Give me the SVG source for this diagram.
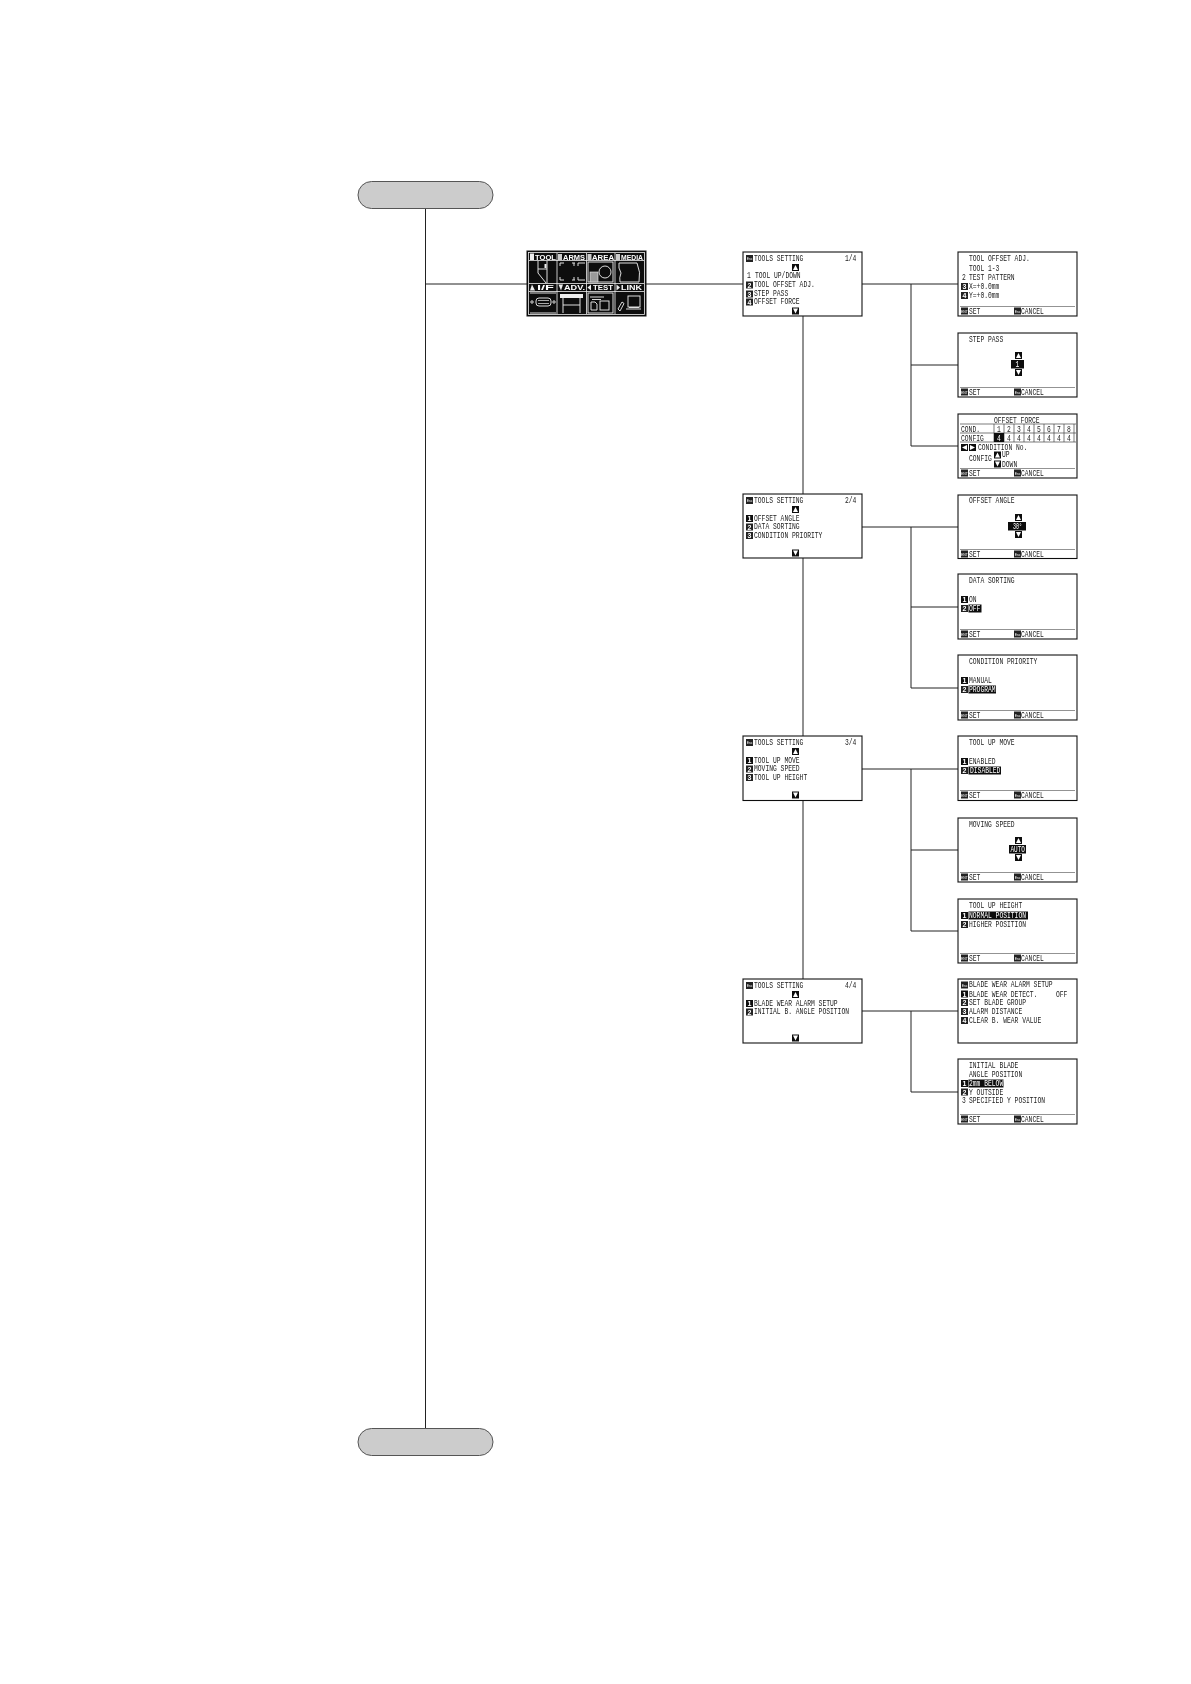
<svg xmlns="http://www.w3.org/2000/svg" width="1191" height="1684" viewBox="0 0 1191 1684">
<style>
text{font-family:"Liberation Mono",monospace;font-size:9.5px;fill:#222}
.w{fill:#fff}
.i{font-size:7px;font-weight:bold;fill:#fff;text-anchor:middle;font-family:"Liberation Sans",sans-serif}
.tiny{font-size:3.4px;fill:#fff;text-anchor:middle;font-family:"Liberation Sans",sans-serif}
.m{font-family:"Liberation Sans",sans-serif;font-size:7.5px;font-weight:bold;fill:#fff}
.scr{fill:#fff;stroke:#111;stroke-width:1.1}
.pill{fill:#ccc;stroke:#555;stroke-width:1}
.line{fill:none;stroke:#222;stroke-width:1}
.cut{stroke:#777;stroke-width:.8;fill:none}
.grid{stroke:#444;stroke-width:.7;fill:none}
.ln{fill:none;stroke:#eee;stroke-width:.9}
.node{filter:url(#soft)}
</style>
<defs>
<filter id="soft" x="-2%" y="-2%" width="104%" height="104%"><feGaussianBlur stdDeviation="0.28"/></filter>
<g id="d1"><rect width="7" height="7" fill="#111"/><text class="i" x="3.5" y="6">1</text></g>
<g id="d2"><rect width="7" height="7" fill="#222"/><text class="i" x="3.5" y="6">2</text></g>
<g id="d3"><rect width="7" height="7" fill="#222"/><text class="i" x="3.5" y="6">3</text></g>
<g id="d4"><rect width="7" height="7" fill="#222"/><text class="i" x="3.5" y="6">4</text></g>
<g id="esc"><rect width="7" height="7" fill="#222"/><text class="tiny" x="3.5" y="5">Esc</text></g>
<g id="ent"><rect width="7" height="7" fill="#222"/><text class="tiny" x="3.5" y="5">ENT</text></g>
<g id="up"><rect width="7" height="7" fill="#111"/><polygon points="3.5,1 6,6 1,6" fill="#fff"/></g>
<g id="dn"><rect width="7" height="7" fill="#111"/><polygon points="3.5,6 6,1 1,1" fill="#fff"/></g>
<g id="lf"><rect width="7" height="7" fill="#111"/><polygon points="1,3.5 6,1 6,6" fill="#fff"/></g>
<g id="rt"><rect width="7" height="7" fill="#111"/><polygon points="6,3.5 1,1 1,6" fill="#fff"/></g>
<g id="foot"><path class="cut" d="M2 54.5H117"/><use href="#ent" x="3" y="55.5"/><text x="11" y="61.5" textLength="11.4" lengthAdjust="spacingAndGlyphs">SET</text><use href="#esc" x="56" y="55.5"/><text x="63" y="61.5" textLength="22.8" lengthAdjust="spacingAndGlyphs">CANCEL</text></g>
</defs>

<g id="connectors" class="line">
<path d="M425.5 209V1428"/>
<path d="M425.5 284H527M646 284H743"/>
<path d="M803 316V979"/>
<path d="M862 284H958M911 284V446M911 365H958M911 446H958"/>
<path d="M862 527H958M911 527V688M911 607H958M911 688H958"/>
<path d="M862 769H958M911 769V931M911 850H958M911 931H958"/>
<path d="M862 1011H958M911 1011V1092M911 1092H958"/>
</g>

<g id="start"><rect class="pill" x="358" y="181.500" width="135" height="27" rx="13.500"/></g>
<g id="end"><rect class="pill" x="358" y="1428.500" width="135" height="27" rx="13.500"/></g>

<g id="main-menu" class="node" transform="translate(527,251)">
<rect width="119" height="65" fill="#111" stroke="#111"/>
<rect x="1.500" y="1.500" width="116" height="62" fill="none" stroke="#eee" stroke-width=".8"/>
<path d="M30 2V63M59.500 2V63M88 2V63M2 9.500H117M2 32.500H117M2 40.500H117" stroke="#eee" stroke-width=".8" fill="none"/>
<rect x="3" y="2.500" width="4" height="6.500" fill="#eee"/>
<text class="m" x="8" y="8.500" textLength="21" lengthAdjust="spacingAndGlyphs">TOOL</text>
<text class="m" x="36" y="8.500" textLength="22" lengthAdjust="spacingAndGlyphs">ARMS</text>
<text class="m" x="65" y="8.500" textLength="22" lengthAdjust="spacingAndGlyphs">AREA</text>
<text class="m" x="94" y="8.500" textLength="22" lengthAdjust="spacingAndGlyphs">MEDIA</text>
<text class="m" x="10" y="39" textLength="17" lengthAdjust="spacingAndGlyphs">I/F</text>
<text class="m" x="37" y="39" textLength="21" lengthAdjust="spacingAndGlyphs">ADV.</text>
<text class="m" x="66" y="39" textLength="20" lengthAdjust="spacingAndGlyphs">TEST</text>
<text class="m" x="94" y="39" textLength="21" lengthAdjust="spacingAndGlyphs">LINK</text>
<path d="M31 3h4v6h-4zM60.500 3h4v6h-4zM89 3h4v6h-4z" fill="#ccc"/>
<polygon points="5,33.500 8,39.500 3,39.500" fill="#eee"/>
<polygon points="34,39.500 36,33.500 31.500,33.500" fill="#eee"/>
<polygon points="60.500,36.500 64,33.500 64,39.500" fill="#eee"/>
<polygon points="93,36.500 89.500,33.500 89.500,39.500" fill="#eee"/>
<path class="ln" d="M11 10V22L19 32M20 10V32M11 18H20"/><rect x="17.500" y="13" width="2" height="4" fill="#eee"/>
<path class="ln" d="M33 15V12H37M45 12H48M51 15V12H58M33 26V29H37M45 29H48M51 26V29H58M47 12V15M47 29V26"/>
<rect class="ln" x="61" y="11" width="25" height="20"/><circle class="ln" cx="78" cy="21" r="6"/><rect x="63" y="21" width="8" height="10" fill="#999" stroke="#eee" stroke-width=".6"/>
<path class="ln" d="M92 12H110Q114 21 112 31H93Q92 27 94 22Q91 17 92 12Z"/>
<path class="ln" d="M3 42H29M3 62H29"/><rect class="ln" x="9" y="47" width="15" height="8" rx="3"/><circle class="ln" cx="5" cy="51" r="1.200"/><circle class="ln" cx="27" cy="51" r="1.200"/><path d="M11 49.500h11M11 52.500h11" stroke="#aaa" stroke-width="1"/>
<rect x="33" y="43" width="23" height="4" fill="#eee"/><path class="ln" d="M36 47V62M53 47V62M36 54H53"/>
<rect class="ln" x="61" y="42" width="25" height="20"/><rect class="ln" x="73" y="50" width="9" height="9"/><path class="ln" d="M64 51H68L70 53V59H64ZM63 46H77M65 48.500H74"/>
<rect class="ln" x="101" y="45" width="12" height="11"/><path class="ln" d="M99 58H114M102 56.500H112"/><path class="ln" d="M91 58L95 51L97 52.500L93 60Z"/>
</g>

<g id="tools-1" class="node" transform="translate(743,252)">
<rect class="scr" width="119" height="64"/>
<use href="#esc" x="3" y="3"/><text x="11" y="9" textLength="49.400" lengthAdjust="spacingAndGlyphs">TOOLS SETTING</text><text x="102" y="9" textLength="11.400" lengthAdjust="spacingAndGlyphs">1/4</text>
<use href="#up" x="49" y="12"/>
<text x="4" y="26" textLength="3.800" lengthAdjust="spacingAndGlyphs">1</text><text x="12" y="26" textLength="45.600" lengthAdjust="spacingAndGlyphs">TOOL UP/DOWN</text>
<use href="#d2" x="3" y="29.500"/><text x="11" y="35" textLength="60.800" lengthAdjust="spacingAndGlyphs">TOOL OFFSET ADJ.</text>
<use href="#d3" x="3" y="38.500"/><text x="11" y="44" textLength="34.200" lengthAdjust="spacingAndGlyphs">STEP PASS</text>
<use href="#d4" x="3" y="46.500"/><text x="11" y="52" textLength="45.600" lengthAdjust="spacingAndGlyphs">OFFSET FORCE</text>
<use href="#dn" x="49" y="55.500"/>
</g>

<g id="tools-2" class="node" transform="translate(743,494)">
<rect class="scr" width="119" height="64"/>
<use href="#esc" x="3" y="3"/><text x="11" y="9" textLength="49.400" lengthAdjust="spacingAndGlyphs">TOOLS SETTING</text><text x="102" y="9" textLength="11.400" lengthAdjust="spacingAndGlyphs">2/4</text>
<use href="#up" x="49" y="12"/>
<use href="#d1" x="3" y="21"/><text x="11" y="27" textLength="45.600" lengthAdjust="spacingAndGlyphs">OFFSET ANGLE</text>
<use href="#d2" x="3" y="29.500"/><text x="11" y="35" textLength="45.600" lengthAdjust="spacingAndGlyphs">DATA SORTING</text>
<use href="#d3" x="3" y="38"/><text x="11" y="44" textLength="68.400" lengthAdjust="spacingAndGlyphs">CONDITION PRIORITY</text>
<use href="#dn" x="49" y="55.500"/>
</g>

<g id="tools-3" class="node" transform="translate(743,736)">
<rect class="scr" width="119" height="64.500"/>
<use href="#esc" x="3" y="3"/><text x="11" y="9" textLength="49.400" lengthAdjust="spacingAndGlyphs">TOOLS SETTING</text><text x="102" y="9" textLength="11.400" lengthAdjust="spacingAndGlyphs">3/4</text>
<use href="#up" x="49" y="12"/>
<use href="#d1" x="3" y="21"/><text x="11" y="27" textLength="45.600" lengthAdjust="spacingAndGlyphs">TOOL UP MOVE</text>
<use href="#d2" x="3" y="29.500"/><text x="11" y="35" textLength="45.600" lengthAdjust="spacingAndGlyphs">MOVING SPEED</text>
<use href="#d3" x="3" y="38"/><text x="11" y="44" textLength="53.200" lengthAdjust="spacingAndGlyphs">TOOL UP HEIGHT</text>
<use href="#dn" x="49" y="55.500"/>
</g>

<g id="tools-4" class="node" transform="translate(743,979)">
<rect class="scr" width="119" height="64"/>
<use href="#esc" x="3" y="3"/><text x="11" y="9" textLength="49.400" lengthAdjust="spacingAndGlyphs">TOOLS SETTING</text><text x="102" y="9" textLength="11.400" lengthAdjust="spacingAndGlyphs">4/4</text>
<use href="#up" x="49" y="12"/>
<use href="#d1" x="3" y="21"/><text x="11" y="27" textLength="83.600" lengthAdjust="spacingAndGlyphs">BLADE WEAR ALARM SETUP</text>
<use href="#d2" x="3" y="29.500"/><text x="11" y="35" textLength="95" lengthAdjust="spacingAndGlyphs">INITIAL B. ANGLE POSITION</text>
<use href="#dn" x="49" y="55.500"/>
</g>

<g id="tool-offset-adj" class="node" transform="translate(958,252)">
<rect class="scr" width="119" height="64"/>
<text x="11" y="9" textLength="60.800" lengthAdjust="spacingAndGlyphs">TOOL OFFSET ADJ.</text>
<text x="11" y="18.500" textLength="30.400" lengthAdjust="spacingAndGlyphs">TOOL 1-3</text>
<text x="4" y="27.500" textLength="3.800" lengthAdjust="spacingAndGlyphs">2</text><text x="11" y="27.500" textLength="45.600" lengthAdjust="spacingAndGlyphs">TEST PATTERN</text>
<use href="#d3" x="3" y="31"/><text x="11" y="36.500" textLength="30.400" lengthAdjust="spacingAndGlyphs">X=+0.0mm</text>
<use href="#d4" x="3" y="40"/><text x="11" y="45.500" textLength="30.400" lengthAdjust="spacingAndGlyphs">Y=+0.0mm</text>
<use href="#foot"/>
</g>

<g id="step-pass" class="node" transform="translate(958,333)">
<rect class="scr" width="119" height="64"/>
<text x="11" y="9" textLength="34.200" lengthAdjust="spacingAndGlyphs">STEP PASS</text>
<use href="#up" x="57" y="19"/><rect x="53" y="27" width="13" height="8.500" fill="#111"/><text class="w" x="57.500" y="34" textLength="3.800" lengthAdjust="spacingAndGlyphs">1</text><use href="#dn" x="57" y="36"/>
<use href="#foot"/>
</g>

<g id="offset-force" class="node" transform="translate(958,414)">
<rect class="scr" width="119" height="64"/>
<text x="36" y="8.500" textLength="45.600" lengthAdjust="spacingAndGlyphs">OFFSET FORCE</text>
<path class="grid" d="M2 10H118M2 19H118M2 28H118M36 10V28M46 10V28M56 10V28M66 10V28M76 10V28M86 10V28M96 10V28M106 10V28M116 10V28"/>
<text x="3" y="17.500" textLength="19" lengthAdjust="spacingAndGlyphs">COND.</text><text x="3" y="26.500" textLength="22.800" lengthAdjust="spacingAndGlyphs">CONFIG</text>
<text x="39" y="17.500" textLength="3.800" lengthAdjust="spacingAndGlyphs">1</text><text x="49" y="17.500" textLength="3.800" lengthAdjust="spacingAndGlyphs">2</text><text x="59" y="17.500" textLength="3.800" lengthAdjust="spacingAndGlyphs">3</text><text x="69" y="17.500" textLength="3.800" lengthAdjust="spacingAndGlyphs">4</text><text x="79" y="17.500" textLength="3.800" lengthAdjust="spacingAndGlyphs">5</text><text x="89" y="17.500" textLength="3.800" lengthAdjust="spacingAndGlyphs">6</text><text x="99" y="17.500" textLength="3.800" lengthAdjust="spacingAndGlyphs">7</text><text x="109" y="17.500" textLength="3.800" lengthAdjust="spacingAndGlyphs">8</text>
<rect x="36" y="19" width="10" height="9" fill="#111"/><text class="w" x="39" y="26.500" textLength="3.800" lengthAdjust="spacingAndGlyphs">4</text>
<text x="49" y="26.500" textLength="3.800" lengthAdjust="spacingAndGlyphs">4</text><text x="59" y="26.500" textLength="3.800" lengthAdjust="spacingAndGlyphs">4</text><text x="69" y="26.500" textLength="3.800" lengthAdjust="spacingAndGlyphs">4</text><text x="79" y="26.500" textLength="3.800" lengthAdjust="spacingAndGlyphs">4</text><text x="89" y="26.500" textLength="3.800" lengthAdjust="spacingAndGlyphs">4</text><text x="99" y="26.500" textLength="3.800" lengthAdjust="spacingAndGlyphs">4</text><text x="109" y="26.500" textLength="3.800" lengthAdjust="spacingAndGlyphs">4</text>
<use href="#lf" x="3" y="30"/><use href="#rt" x="11" y="30"/><text x="20" y="36" textLength="49.400" lengthAdjust="spacingAndGlyphs">CONDITION No.</text>
<text x="11" y="47" textLength="22.800" lengthAdjust="spacingAndGlyphs">CONFIG</text>
<use href="#up" x="36" y="37.500"/><text x="44" y="43" textLength="7.600" lengthAdjust="spacingAndGlyphs">UP</text>
<use href="#dn" x="36" y="46.500"/><text x="44" y="53" textLength="15.200" lengthAdjust="spacingAndGlyphs">DOWN</text>
<use href="#foot"/>
</g>

<g id="offset-angle" class="node" transform="translate(958,495)">
<rect class="scr" width="119" height="63.500"/>
<text x="11" y="8" textLength="45.600" lengthAdjust="spacingAndGlyphs">OFFSET ANGLE</text>
<use href="#up" x="57" y="19"/><rect x="50" y="27" width="18" height="8.500" fill="#111"/><text class="w" x="55" y="34" textLength="9" lengthAdjust="spacingAndGlyphs">30°</text><use href="#dn" x="57" y="36"/>
<use href="#foot"/>
</g>

<g id="data-sorting" class="node" transform="translate(958,574)">
<rect class="scr" width="119" height="65"/>
<text x="11" y="9" textLength="45.600" lengthAdjust="spacingAndGlyphs">DATA SORTING</text>
<use href="#d1" x="3" y="22"/><text x="11" y="28" textLength="7.600" lengthAdjust="spacingAndGlyphs">ON</text>
<use href="#d2" x="3" y="31"/><rect x="10.500" y="30.500" width="13" height="8" fill="#111"/><text class="w" x="11" y="37" textLength="11.400" lengthAdjust="spacingAndGlyphs">OFF</text>
<use href="#foot" y="1"/>
</g>

<g id="condition-priority" class="node" transform="translate(958,655)">
<rect class="scr" width="119" height="65"/>
<text x="11" y="9" textLength="68.400" lengthAdjust="spacingAndGlyphs">CONDITION PRIORITY</text>
<use href="#d1" x="3" y="22"/><text x="11" y="28" textLength="22.800" lengthAdjust="spacingAndGlyphs">MANUAL</text>
<use href="#d2" x="3" y="31"/><rect x="10.500" y="30.500" width="27.500" height="8" fill="#111"/><text class="w" x="11" y="37" textLength="26.600" lengthAdjust="spacingAndGlyphs">PROGRAM</text>
<use href="#foot" y="1"/>
</g>

<g id="tool-up-move" class="node" transform="translate(958,736)">
<rect class="scr" width="119" height="64.500"/>
<text x="11" y="9" textLength="45.600" lengthAdjust="spacingAndGlyphs">TOOL UP MOVE</text>
<use href="#d1" x="3" y="22"/><text x="11" y="28" textLength="26.600" lengthAdjust="spacingAndGlyphs">ENABLED</text>
<use href="#d2" x="3" y="31"/><rect x="10.500" y="30.500" width="32.500" height="8" fill="#111"/><text class="w" x="12" y="37" textLength="30.400" lengthAdjust="spacingAndGlyphs">DISABLED</text>
<use href="#foot"/>
</g>

<g id="moving-speed" class="node" transform="translate(958,818)">
<rect class="scr" width="119" height="64"/>
<text x="11" y="9" textLength="45.600" lengthAdjust="spacingAndGlyphs">MOVING SPEED</text>
<use href="#up" x="57" y="19"/><rect x="51" y="27" width="17" height="8.500" fill="#111"/><text class="w" x="52.500" y="34" textLength="14.500" lengthAdjust="spacingAndGlyphs">AUTO</text><use href="#dn" x="57" y="36"/>
<use href="#foot"/>
</g>

<g id="tool-up-height" class="node" transform="translate(958,899)">
<rect class="scr" width="119" height="64"/>
<text x="11" y="9" textLength="53.200" lengthAdjust="spacingAndGlyphs">TOOL UP HEIGHT</text>
<use href="#d1" x="3" y="13"/><rect x="10.500" y="12.500" width="59.500" height="8" fill="#111"/><text class="w" x="11" y="19" textLength="57" lengthAdjust="spacingAndGlyphs">NORMAL POSITION</text>
<use href="#d2" x="3" y="22"/><text x="11" y="28" textLength="57" lengthAdjust="spacingAndGlyphs">HIGHER POSITION</text>
<use href="#foot"/>
</g>

<g id="blade-wear-alarm" class="node" transform="translate(958,979)">
<rect class="scr" width="119" height="64"/>
<use href="#esc" x="3" y="2.500"/><text x="11" y="8" textLength="83.600" lengthAdjust="spacingAndGlyphs">BLADE WEAR ALARM SETUP</text>
<use href="#d1" x="3" y="11.500"/><text x="11" y="17.500" textLength="68.400" lengthAdjust="spacingAndGlyphs">BLADE WEAR DETECT.</text><text x="98" y="17.500" textLength="11.400" lengthAdjust="spacingAndGlyphs">OFF</text>
<use href="#d2" x="3" y="20"/><text x="11" y="26" textLength="57" lengthAdjust="spacingAndGlyphs">SET BLADE GROUP</text>
<use href="#d3" x="3" y="29"/><text x="11" y="35" textLength="53.200" lengthAdjust="spacingAndGlyphs">ALARM DISTANCE</text>
<use href="#d4" x="3" y="38"/><text x="11" y="44" textLength="72.200" lengthAdjust="spacingAndGlyphs">CLEAR B. WEAR VALUE</text>
</g>

<g id="initial-blade" class="node" transform="translate(958,1059)">
<rect class="scr" width="119" height="65"/>
<text x="11" y="9" textLength="49.400" lengthAdjust="spacingAndGlyphs">INITIAL BLADE</text>
<text x="11" y="18" textLength="53.200" lengthAdjust="spacingAndGlyphs">ANGLE POSITION</text>
<use href="#d1" x="3" y="21"/><rect x="10.500" y="20.500" width="35" height="8" fill="#111"/><text class="w" x="11" y="27" textLength="34.200" lengthAdjust="spacingAndGlyphs">2mm BELOW</text>
<use href="#d2" x="3" y="29.500"/><text x="11" y="35.500" textLength="34.200" lengthAdjust="spacingAndGlyphs">Y OUTSIDE</text>
<text x="4" y="44" textLength="3.800" lengthAdjust="spacingAndGlyphs">3</text><text x="11" y="44" textLength="76" lengthAdjust="spacingAndGlyphs">SPECIFIED Y POSITION</text>
<use href="#foot" y="1"/>
</g>
</svg>
